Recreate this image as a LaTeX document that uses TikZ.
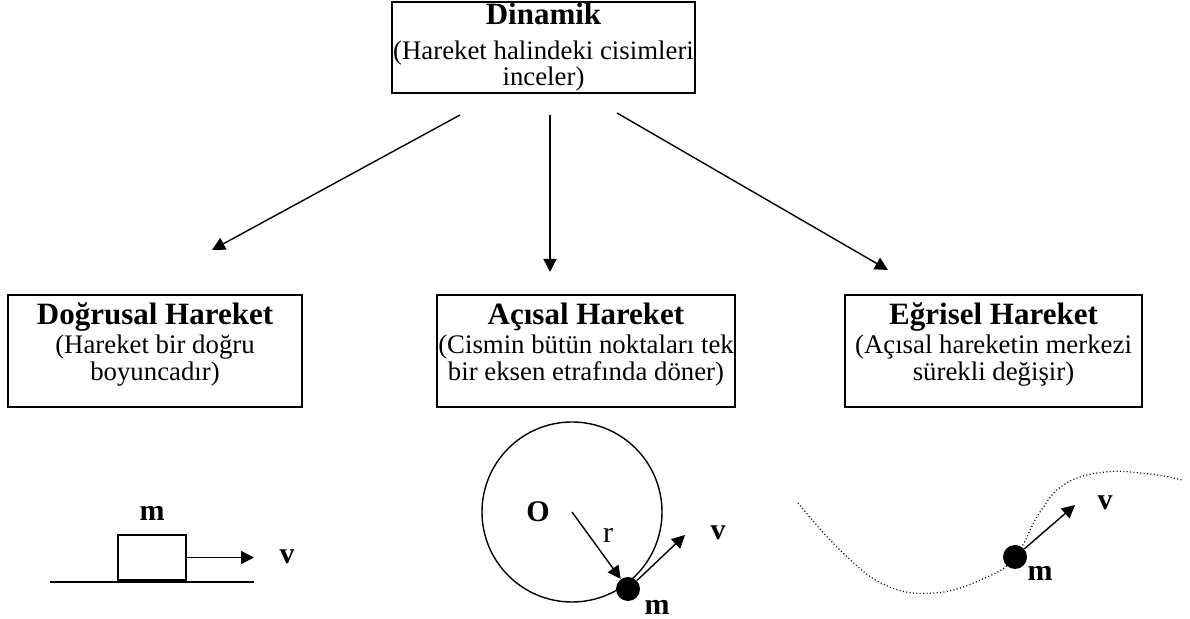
\documentclass[tikz,border=0pt]{standalone}
\usepackage{fontspec}
\setmainfont{Liberation Serif}
\usetikzlibrary{arrows.meta}
\tikzset{
	hbox/.style={draw, line width=0.9pt, align=center, inner sep=0pt, minimum height=56pt, font=\fontsize{13.4}{13.25}\selectfont},
	arr/.style={line width=0.7pt, -{Triangle[length=6.5pt,width=6.5pt]}},
	lbl/.style={font=\fontsize{15}{16}\selectfont\bfseries, inner sep=0pt},
	dot/.style={circle, fill, inner sep=0pt, minimum size=12pt}
}
\newcommand{\bas}[1]{{\fontsize{15.5}{16}\selectfont\bfseries #1}}

\begin{document}
\begin{tikzpicture}[x=0.5pt, y=-0.5pt]
	\useasboundingbox (0,0) rectangle (1190,619);
	\node[hbox, minimum width=151.5pt, minimum height=45.5pt] (din) at (543.5,47.5) {\bas{Dinamik}\\[4pt](Hareket halindeki cisimleri\\inceler)};
	\node[hbox, minimum width=147pt] (dog) at (155,351) {\bas{Doğrusal Hareket}\\[1pt](Hareket bir doğru\\[0.5pt]boyuncadır)\\[-4pt]\mbox{}};
	\node[hbox, minimum width=149pt] (aci) at (586,351) {\bas{Açısal Hareket}\\[1pt](Cismin bütün noktaları tek\\[0.5pt]bir eksen etrafında döner)\\[-4pt]\mbox{}};
	\node[hbox, minimum width=148.5pt] (egr) at (993.5,351) {\bas{Eğrisel Hareket}\\[1pt](Açısal hareketin merkezi\\[0.5pt]sürekli değişir)\\[-4pt]\mbox{}};
	
	\coordinate (d1) at (460,115);
	\coordinate (d2) at (550,115);
	\coordinate (d3) at (617,113);
	\coordinate (o1) at (212,250);
	\coordinate (o2) at (550,272);
	\coordinate (o3) at (888,270);
	\draw[arr] (d1) -- (o1);
	\draw[arr] (d2) -- (o2);
	\draw[arr] (d3) -- (o3);
	
	% dogrusal
	\draw[line width=0.8pt] (50,582) -- (254,582);
	\node[draw, line width=0.7pt, minimum width=34pt, minimum height=22.5pt, inner sep=0pt] (blok) at (152,557.5) {};
	\node[lbl] (m1) at (152,513) {m};
	\coordinate (v1u) at (254,557.5);
	\draw[arr] (blok.east) -- (v1u);
	\node[lbl] (v1) at (287,557) {v};
	
	% acisal
	\coordinate (O) at (572,512);
	\draw[line width=0.7pt] (O) circle[radius=45pt];
	\node[dot] (kutle) at (628,589) {};
	\node[lbl] (Olbl) at (538,512) {O};
	\draw[arr] (O) -- (kutle);
	\node[font=\fontsize{15}{16}\selectfont, inner sep=0pt] (r) at (608,535) {r};
	\coordinate (v2u) at (685,535);
	\draw[arr] (kutle) -- (v2u);
	\node[lbl] (v2) at (718,533) {v};
	\node[lbl] (m2) at (657,607) {m};
	
	% egrisel
	\draw[line width=0.6pt, dash pattern=on 0.5pt off 1.2pt] plot[smooth, tension=0.7] coordinates {(798,503) (840,550) (885,585) (935,593) (985,578) (1015,557) (1040,512) (1065,484) (1105,472) (1150,474) (1182,480)};
	\node[dot] (kutle3) at (1015,557) {};
	\coordinate (v3u) at (1075,505);
	\draw[arr] (kutle3) -- (v3u);
	\node[lbl] (v3) at (1105,503) {v};
	\node[lbl] (m3) at (1040,573) {m};
\end{tikzpicture}
\end{document}
